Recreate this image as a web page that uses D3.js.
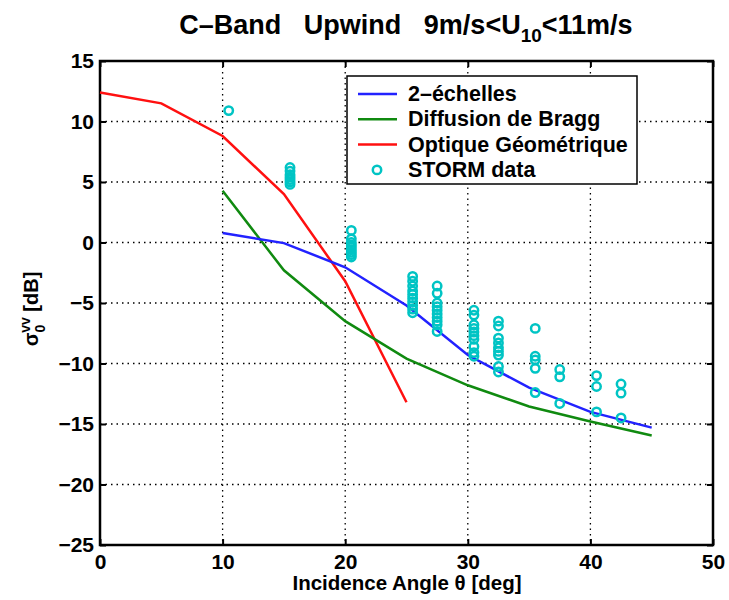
<!DOCTYPE html>
<html><head><meta charset="utf-8">
<script src="https://cdn.jsdelivr.net/npm/d3@7"></script>
<style>body{margin:0;background:#fff;} text{font-family:"Liberation Sans",Arial,sans-serif;font-weight:bold;white-space:pre;}</style>
</head><body><svg id="c" width="729" height="600"></svg>
<script>
const xTicks = [0,10,20,30,40,50];
const yTicks = [15,10,5,0,-5,-10,-15,-20,-25];
const angles = [10,15,20,25,30,35,40,45];
const twoScale = [0.78,-0.05,-2.05,-5.2,-9.3,-12.0,-14.0,-15.3];
const bragg = [4.27,-2.3,-6.5,-9.6,-11.8,-13.55,-14.8,-15.95];
const goAngles = [0,5,10,15,20,25];
const geomOptics = [12.4,11.5,8.8,4.0,-3.2,-13.2];
const stormX = [10.5,
 15.5,15.5,15.5,15.5,15.5,15.5,15.5,
 20.5,20.5,20.5,20.5,20.5,20.5,20.5,20.5,20.5,
 25.5,25.5,25.5,25.5,25.5,25.5,25.5,25.5,25.5,25.5,
 27.5,27.5,27.5,27.5,27.5,27.5,27.5,27.5,27.5,27.5,
 30.5,30.5,30.5,30.5,30.5,30.5,30.5,30.5,30.5,30.5,
 32.5,32.5,32.5,32.5,32.5,32.5,32.5,32.5,32.5,
 35.5,35.5,35.5,35.5,35.5,
 37.5,37.5,37.5,
 40.5,40.5,40.5,
 42.5,42.5,42.5];
const stormY = [10.9,
 6.2,5.9,5.6,5.4,5.2,5.0,4.8,
 1.0,0.3,0.0,-0.2,-0.4,-0.6,-0.8,-1.0,-1.2,
 -2.8,-3.2,-3.6,-4.0,-4.3,-4.6,-4.9,-5.2,-5.5,-5.8,
 -3.6,-4.2,-5.0,-5.3,-5.6,-5.9,-6.2,-6.5,-6.8,-7.35,
 -5.6,-6.0,-6.8,-7.1,-7.4,-7.7,-8.0,-8.6,-9.1,-9.4,
 -6.5,-6.9,-7.9,-8.3,-8.7,-9.0,-9.3,-10.25,-10.7,
 -7.1,-9.4,-9.7,-10.4,-12.4,
 -10.5,-11.1,-13.3,
 -11.0,-11.9,-14.0,
 -11.7,-12.45,-14.5];
const legendLabels = ["2–échelles","Diffusion de Bragg","Optique Géométrique","STORM data"];
const colors = {blue:"#2222ff", green:"#108a10", red:"#ff1010", cyan:"#00c4c4"};

const svg = d3.select("#c");
const L=100, R=713, T=61, B=545;
const x = d3.scaleLinear().domain([0,50]).range([L,R]);
const y = d3.scaleLinear().domain([-25,15]).range([B,T]);

// grid
const g = svg.append("g");
g.selectAll(".gx").data(xTicks.slice(1,-1)).join("line")
 .attr("x1",d=>x(d)).attr("x2",d=>x(d)).attr("y1",T).attr("y2",B)
 .attr("stroke","#000").attr("stroke-width",1.3).attr("stroke-dasharray","1.5,4");
g.selectAll(".gy").data(yTicks.slice(1,-1)).join("line")
 .attr("y1",d=>y(d)).attr("y2",d=>y(d)).attr("x1",L).attr("x2",R)
 .attr("stroke","#000").attr("stroke-width",1.3).attr("stroke-dasharray","1.5,4");

// axes
const ax = d3.axisBottom(x).tickValues(xTicks).tickSize(-6).tickPadding(9);
const ay = d3.axisLeft(y).tickValues(yTicks).tickSize(-6).tickPadding(6);
svg.append("g").attr("transform",`translate(0,${B})`).call(ax);
svg.append("g").attr("transform",`translate(${L},0)`).call(ay);
const axTop = d3.axisTop(x).tickValues(xTicks).tickSize(-6).tickFormat("");
const ayR = d3.axisRight(y).tickValues(yTicks).tickSize(-6).tickFormat("");
svg.append("g").attr("transform",`translate(0,${T})`).call(axTop);
svg.append("g").attr("transform",`translate(${R},0)`).call(ayR);
svg.selectAll(".domain").remove();
svg.selectAll(".tick line").attr("stroke","#000").attr("stroke-width",2);
svg.selectAll(".tick text").attr("font-size",21).attr("fill","#000").style("font-weight","bold");
svg.append("rect").attr("x",L).attr("y",T).attr("width",R-L).attr("height",B-T)
 .attr("fill","none").attr("stroke","#000").attr("stroke-width",2.5);

// lines
const lineFn = (xs)=>d3.line().x((d,i)=>x(xs[i])).y(d=>y(d));
svg.append("path").datum(geomOptics).attr("d",lineFn(goAngles)).attr("fill","none").attr("stroke",colors.red).attr("stroke-width",2.5);
svg.append("path").datum(bragg).attr("d",lineFn(angles)).attr("fill","none").attr("stroke",colors.green).attr("stroke-width",2.5);
svg.append("path").datum(twoScale).attr("d",lineFn(angles)).attr("fill","none").attr("stroke",colors.blue).attr("stroke-width",2.5);

// scatter
svg.append("g").selectAll("circle").data(stormY).join("circle")
 .attr("cx",(d,i)=>x(stormX[i])).attr("cy",d=>y(d)).attr("r",4.2)
 .attr("fill","none").attr("stroke",colors.cyan).attr("stroke-width",2.5);

// legend
const lg = svg.append("g");
lg.append("rect").attr("x",347).attr("y",76).attr("width",290).attr("height",108)
 .attr("fill","#fff").attr("stroke","#000").attr("stroke-width",1.5);
const lc=[colors.blue,colors.green,colors.red,colors.cyan];
legendLabels.forEach((t,i)=>{
  const yy = 94 + i*25.3;
  if(i<3) lg.append("line").attr("x1",358).attr("x2",397).attr("y1",yy).attr("y2",yy).attr("stroke",lc[i]).attr("stroke-width",2.5);
  else lg.append("circle").attr("cx",377).attr("cy",yy).attr("r",4.2).attr("fill","none").attr("stroke",lc[i]).attr("stroke-width",2.5);
  lg.append("text").attr("x",408).attr("y",yy+7).attr("font-size",21.5).text(t);
});

// title
const title = svg.append("text").attr("x",406).attr("y",34).attr("text-anchor","middle").attr("font-size",27);
title.append("tspan").text("C–Band   Upwind   9m/s<U");
title.append("tspan").attr("font-size",19).attr("dy",8).text("10");
title.append("tspan").attr("dy",-8).text("<11m/s");

// x label
svg.append("text").attr("x",407).attr("y",590).attr("text-anchor","middle").attr("font-size",20.5).text("Incidence Angle θ [deg]");

// y label
const yl = svg.append("text").attr("transform","translate(38,309) rotate(-90)").attr("text-anchor","middle").attr("font-size",20);
yl.append("tspan").text("σ");
yl.append("tspan").attr("font-size",14).attr("dy",7).text("0");
yl.append("tspan").attr("font-size",14).attr("dy",-15).attr("dx",-8).text("vv");
yl.append("tspan").attr("dy",8).text(" [dB]");
</script></body></html>
